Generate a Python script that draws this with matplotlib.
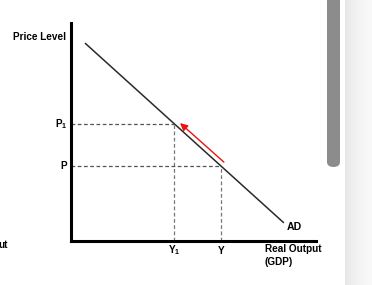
import matplotlib
matplotlib.use("Agg")
import matplotlib.pyplot as plt
import numpy as np
from matplotlib.patches import FancyBboxPatch

# ---------------------------------------------------------------------------
# Data (arbitrary units, axes run 0..10)
# ---------------------------------------------------------------------------
AD_X = [0.57, 8.69]
AD_Y = [9.08, 0.83]
PRICE_LEVELS = [5.35, 3.44]          # P1, P
OUTPUT_LEVELS = [4.20, 6.12]         # Y1, Y
PRICE_LABELS = [r"$\mathbf{P}_{\mathbf{1}}$", "P"]
OUTPUT_LABELS = [r"$\mathbf{Y}_{\mathbf{1}}$", "Y"]
ARROW_FROM = (6.24, 3.62)
ARROW_TO = (4.45, 5.41)

FONT = ["Liberation Sans", "DejaVu Sans"]
plt.rcParams["mathtext.fontset"] = "custom"
plt.rcParams["mathtext.bf"] = "Liberation Sans:bold"
plt.rcParams["mathtext.rm"] = "Liberation Sans"
W, H = 372, 285

fig = plt.figure(figsize=(W / 100, H / 100), dpi=100)
fig.patch.set_facecolor("white")

# ── right side page strip + scrollbar ─────────────────────────────────────
ax_bg = fig.add_axes([345 / W, 0, (W - 345) / W, 1])
grad = np.linspace(0, 1, 64).reshape(1, -1)
ax_bg.imshow(grad, aspect="auto", cmap=matplotlib.colors.LinearSegmentedColormap.from_list(
    "strip", ["#e7e7e7", "#f4f4f4", "#f9f9f9"]), extent=[0, 1, 0, 1])
ax_bg.axis("off")

fig.patches.append(FancyBboxPatch(
    (327 / W, (H - 167) / H), 13 / W, 200 / H,
    boxstyle="round,pad=0,rounding_size=0.018",
    transform=fig.transFigure, facecolor="#8c8c8c", edgecolor="none"))

# ── main diagram ──────────────────────────────────────────────────────────
ax = fig.add_axes([71 / W, (H - 241) / H, 245 / W, 218 / H])
ax.set_xlim(0, 10)
ax.set_ylim(0, 10)
ax.set_facecolor("none")
for side in ("top", "right"):
    ax.spines[side].set_visible(False)
for side in ("left", "bottom"):
    ax.spines[side].set_linewidth(2.2)
    ax.spines[side].set_color("black")
    ax.spines[side].set_capstyle("projecting")
ax.set_xticks([])
ax.set_yticks([])

ax.plot(AD_X, AD_Y, color="#2a2a2a", lw=1.1, solid_capstyle="butt")

label_drop = [-0.1, -0.22]
for p, y, plab, ylab, dy in zip(PRICE_LEVELS, OUTPUT_LEVELS,
                                PRICE_LABELS, OUTPUT_LABELS, label_drop):
    ax.plot([0, y], [p, p], color="#555555", lw=0.9, ls=(0, (3, 2)))
    ax.plot([y, y], [0, p], color="#777777", lw=0.9, ls=(0, (3, 2)))
    ax.text(-0.15, p, plab, ha="right", va="center", fontsize=7.2,
            fontweight="bold", family=FONT, clip_on=False)
    ax.text(y, dy, ylab, ha="center", va="top", fontsize=7.2,
            fontweight="bold", family=FONT, clip_on=False)

ax.annotate("", xy=ARROW_TO, xytext=ARROW_FROM,
            arrowprops=dict(arrowstyle="-|>", color="#ee1111", lw=1.0,
                            mutation_scale=11, shrinkA=0, shrinkB=0))

ax.text(8.8, 0.62, "AD", ha="left", va="center", fontsize=7.6,
        fontweight="bold", family=FONT, clip_on=False)
ax.text(-0.2, 9.36, "Price Level", ha="right", va="center", fontsize=7.2,
        fontweight="bold", family=FONT, clip_on=False)
ax.text(7.9, -0.37, "Real Output", ha="left", va="center", fontsize=7.2,
        fontweight="bold", family=FONT, clip_on=False)
ax.text(7.9, -0.98, "(GDP)", ha="left", va="center", fontsize=7.2,
        fontweight="bold", family=FONT, clip_on=False)

# cropped label from neighbouring figure
fig.text(8 / W, (H - 245) / H, "ut", ha="right", va="center", fontsize=7.2,
         fontweight="bold", family=FONT)

fig.savefig("out.png", dpi=100, facecolor="white")
plt.close(fig)
